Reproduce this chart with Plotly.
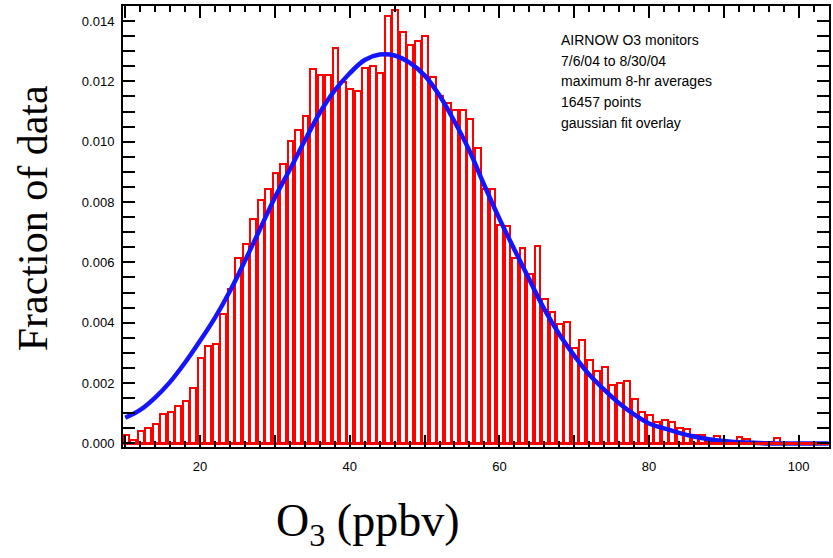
import plotly.graph_objects as go

# ---- data ----
bin_start = 10  # first O3 bin (ppbv), bins are 1 ppbv wide
fraction = [
    0.00028, 0.00011, 0.00041, 0.00052, 0.00064, 0.00099, 0.00105, 0.00124, 0.00141, 0.00182,  # 10-19
    0.00284, 0.00323, 0.00331, 0.00430, 0.00513, 0.00615, 0.00661, 0.00744, 0.00808, 0.00843,  # 20-29
    0.00896, 0.00927, 0.01003, 0.01038, 0.01085, 0.01240, 0.01221, 0.01221, 0.01310, 0.01198,  # 30-39
    0.01175, 0.01168, 0.01244, 0.01251, 0.01228, 0.01416, 0.01438, 0.01363, 0.01322, 0.01333,  # 40-49
    0.01352, 0.01215, 0.01153, 0.01129, 0.01104, 0.01104, 0.01076, 0.00979, 0.00842, 0.00842,  # 50-59
    0.00725, 0.00720, 0.00613, 0.00649, 0.00563, 0.00655, 0.00478, 0.00436, 0.00395, 0.00403,  # 60-69
    0.00315, 0.00343, 0.00277, 0.00241, 0.00254, 0.00193, 0.00201, 0.00206, 0.00147, 0.00105,  # 70-79
    0.00095, 0.00072, 0.00077, 0.00071, 0.00052, 0.00048, 0.00028, 0.00028, 0.00008, 0.00023,  # 80-89
    0.00006, 0.00005, 0.00022, 0.00013, 0.00004, 0.00003, 0.00003, 0.00018, 0.00002, 0.00002,  # 90-99
    0.00001, 0.00001, 0.00001, 0.00001,                                                        # 100-103
]
o3_bins = [bin_start + i for i in range(len(fraction))]

fit_x = [10, 12, 14, 16, 18, 20, 22, 24, 26, 28, 30, 32, 34, 36, 38, 40, 42, 44, 46, 48,
         50, 52, 54, 56, 58, 60, 62, 64, 66, 68, 70, 72, 74, 76, 78, 80, 82, 84, 86, 88,
         90, 92, 94, 96, 98, 100, 102, 104]
fit_y = [0.00085, 0.00111, 0.00152, 0.00204, 0.00268, 0.00340, 0.00417, 0.00505, 0.00605, 0.00710,
         0.00815, 0.00908, 0.01004, 0.01096, 0.01170, 0.01227, 0.01271, 0.01289, 0.01286, 0.01262,
         0.01220, 0.01153, 0.01067, 0.00970, 0.00855, 0.00745, 0.00643, 0.00543, 0.00445, 0.00362,
         0.00291, 0.00228, 0.00178, 0.00133, 0.00096, 0.00066, 0.00050, 0.00035, 0.00023, 0.00014,
         0.00008, 0.00004, 0.00002, 0.00000, 0.00000, 0.00000, 0.00000, 0.00000]

x_label_vals = [20, 40, 60, 80, 100]
x_label_text = ["20", "40", "60", "80", "100"]
x_major_step = 10
x_minor_step = 2
y_tickvals = [0.000, 0.002, 0.004, 0.006, 0.008, 0.010, 0.012, 0.014]
y_ticktext = ["0.000", "0.002", "0.004", "0.006", "0.008", "0.010", "0.012", "0.014"]
y_minor_step = 0.0005

info_lines = ["AIRNOW O3 monitors", "7/6/04 to 8/30/04", "maximum 8-hr averages",
              "16457 points", "gaussian fit overlay"]

X_RANGE = [9.7, 104.05]
Y_RANGE = [-0.00012, 0.01450]

# ---- figure ----
W, H = 833, 558
ML, MR, MT, MB = 123, 2, 6, 111
PW, PH = W - ML - MR, H - MT - MB

def px_x(p):
    return (p - ML) / PW

def px_y(p):
    return 1 - (p - MT) / PH

fig = go.Figure()

fig.add_trace(go.Bar(
    x=o3_bins, y=fraction, width=0.78, offset=-0.3,
    marker=dict(color="white", line=dict(color="#ff0000", width=2)),
    showlegend=False, hoverinfo="x+y",
))

# red baseline running under the bars (on the overlay axis so that axis is drawn)
fig.add_trace(go.Scatter(
    x=[o3_bins[0] - 0.3, X_RANGE[1]], y=[0, 0], mode="lines", xaxis="x2",
    line=dict(color="#ff0000", width=3), showlegend=False, hoverinfo="skip",
))

fig.add_trace(go.Scatter(
    x=fit_x, y=fit_y, mode="lines", line_shape="spline",
    line=dict(color="#1414ff", width=4.5), showlegend=False,
))

tick_font = dict(family="Liberation Sans, Arial, sans-serif", size=13, color="black")

fig.update_layout(
    xaxis=dict(
        range=X_RANGE, showgrid=False, zeroline=False,
        showline=True, linecolor="black", linewidth=2, mirror="allticks",
        ticks="inside", ticklen=12, tickwidth=1.5, tickcolor="black",
        tickmode="array", tickvals=x_label_vals, ticktext=x_label_text,
        tickfont=tick_font, ticklabelstandoff=6,
        minor=dict(ticks="inside", ticklen=6, tickwidth=1.5, tickcolor="black",
                   dtick=x_minor_step, tick0=0, showgrid=False),
    ),
    xaxis2=dict(
        overlaying="x", matches="x", side="bottom", anchor="y",
        range=X_RANGE, showgrid=False, zeroline=False, showline=False,
        mirror="allticks", ticks="inside", ticklen=12, tickwidth=1.5, tickcolor="black",
        tickmode="linear", tick0=0, dtick=x_major_step, showticklabels=False,
    ),
    yaxis=dict(
        range=Y_RANGE, showgrid=False, zeroline=False,
        showline=True, linecolor="black", linewidth=2, mirror="allticks",
        ticks="inside", ticklen=12, tickwidth=1.5, tickcolor="black",
        tickmode="array", tickvals=y_tickvals, ticktext=y_ticktext,
        tickfont=tick_font, ticklabelstandoff=4,
        minor=dict(ticks="inside", ticklen=6, tickwidth=1.5, tickcolor="black",
                   dtick=y_minor_step, tick0=0, showgrid=False),
    ),
)

annotations = [
    dict(text="Fraction of data", xref="paper", yref="paper",
         x=px_x(33), y=px_y(218), textangle=-90, showarrow=False,
         xanchor="center", yanchor="middle",
         font=dict(family="Liberation Serif, Times New Roman, serif", size=42, color="black")),
    dict(text="O<sub>3</sub> (ppbv)", xref="paper", yref="paper",
         x=px_x(368), y=px_y(524), showarrow=False,
         xanchor="center", yanchor="middle",
         font=dict(family="Liberation Serif, Times New Roman, serif", size=46, color="black")),
]
for i, line in enumerate(info_lines):
    annotations.append(dict(
        text=line, xref="paper", yref="paper",
        x=px_x(560), y=px_y(40 + i * 20.7), showarrow=False,
        xanchor="left", yanchor="middle",
        font=dict(family="Liberation Sans, Arial, sans-serif", size=14, color="black")))

fig.update_layout(
    width=W, height=H,
    margin=dict(l=ML, r=MR, t=MT, b=MB, pad=0),
    paper_bgcolor="white", plot_bgcolor="white",
    bargap=0, annotations=annotations,
)

fig.write_html("out.html")
